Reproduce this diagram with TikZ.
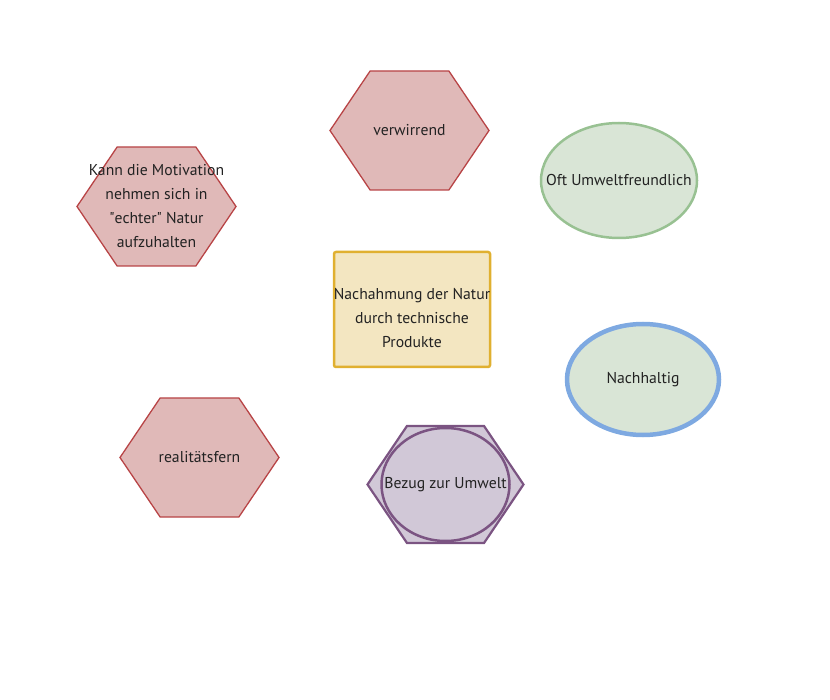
\documentclass[tikz,border=0pt]{standalone}
\usepackage{fontspec}
\setmainfont{PT Sans}
\usepackage{tikz}
\usetikzlibrary{shapes}
\usetikzlibrary{positioning}

\definecolor{hexfill}{HTML}{E0B9B8}
\definecolor{hexdraw}{HTML}{B84446}
\definecolor{boxfill}{HTML}{F3E6C1}
\definecolor{boxdraw}{HTML}{E0B030}
\definecolor{ovalfill}{HTML}{D9E5D6}
\definecolor{ovaldraw}{HTML}{98C192}
\definecolor{bluedraw}{HTML}{7EA9E1}
\definecolor{lilafill}{HTML}{D1C8D7}
\definecolor{liladraw}{HTML}{7B5482}
\definecolor{textcol}{HTML}{222222}

% text that may run over the edge of its shape
\newcommand{\zw}[1]{\makebox[0pt]{#1}}

\begin{document}
\begin{tikzpicture}[x=1pt, y=-1pt, font=\fontsize{15.7}{24}\selectfont, text=textcol]
  \tikzstyle{hexa}=[signal, signal to=west and east, signal pointer angle=112, fill=hexfill, draw=hexdraw, line width=1.3pt, minimum width=159pt, minimum height=119pt, inner sep=0pt, align=center]
  \tikzstyle{cbox}=[rectangle, rounded corners=2pt, fill=boxfill, draw=boxdraw, line width=2.5pt, minimum width=156pt, minimum height=115pt, inner sep=0pt, align=center]
  \tikzstyle{oval}=[ellipse, fill=ovalfill, draw=ovaldraw, line width=2.5pt, minimum width=156pt, minimum height=115pt, inner sep=0pt, align=center]
  \useasboundingbox (0,0) rectangle (830,700);

  \node (natur) [cbox] at (412,309.5) {\rule{0pt}{28pt}\zw{Nachahmung der Natur}\\\zw{durch technische}\\\zw{Produkte}};
  \node (verwirrend) [hexa] at (409.5,130.5) {\zw{verwirrend}};
  \node (motivation) [hexa] at (156.5,206.5) {\zw{Kann die Motivation}\\\zw{nehmen sich in}\\\zw{\textquotedbl echter\textquotedbl{} Natur}\\\zw{aufzuhalten}};
  \node (realfern) [hexa] at (199.5,457.5) {\zw{realitätsfern}};
  \node (umweltfr) [oval] at (619,180.5) {\zw{Oft Umweltfreundlich}};
  \node (nachhaltig) [oval, draw=bluedraw, line width=4.5pt, minimum width=152pt, minimum height=111pt] at (643,379.5) {\zw{Nachhaltig}};
  \node (bezughex) [hexa, fill=lilafill, draw=liladraw, line width=2.2pt, minimum width=156pt, minimum height=117pt] at (445.5,484.5) {};
  \node (bezug) [oval, fill=lilafill, draw=liladraw, minimum width=128pt, minimum height=113pt] at (bezughex) {\zw{Bezug zur Umwelt}};
\end{tikzpicture}
\end{document}
